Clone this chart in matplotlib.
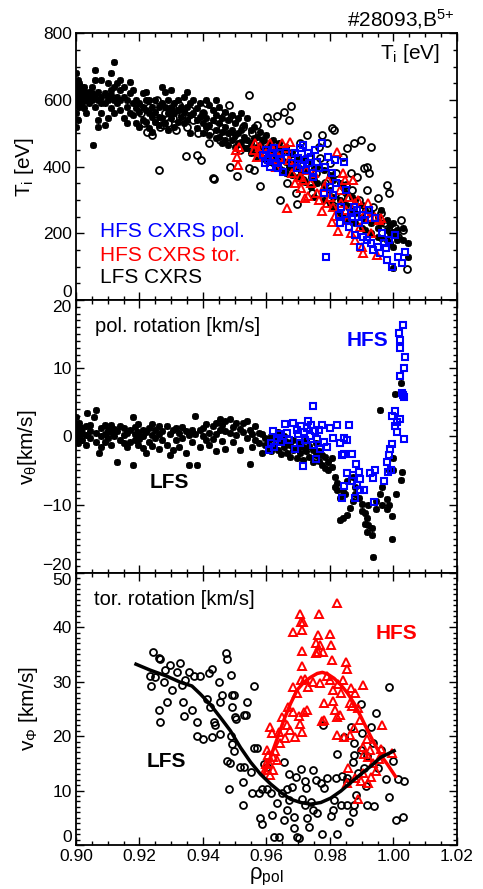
import numpy as np
import matplotlib
matplotlib.use("Agg")
import matplotlib.pyplot as plt
from matplotlib.ticker import MultipleLocator

plt.rcParams['font.family'] = ['Liberation Sans', 'DejaVu Sans']
plt.rcParams['mathtext.default'] = 'regular'

# ---------------- data ----------------
# panel 1: ion temperature, LFS asterisks, rows of (rho, [Ti values])
ti_lfs_star_rows = [
    (0.9000, [520, 560, 600, 630, 650, 680]), (0.9005, [540, 590, 615, 640, 660]),
    (0.9010, [580, 610, 625, 650]), (0.9015, [600, 640, 620]), (0.9020, [590, 610, 630]),
    (0.9025, [575, 615, 640]), (0.9030, [560, 600, 620]), (0.9040, [590, 610, 625]),
    (0.9050, [600, 620, 640]), (0.9055, [465]), (0.9060, [690, 610, 580, 660]),
    (0.9070, [625, 600, 540, 520]), (0.9080, [660, 610, 560, 590]), (0.9090, [525, 620, 590]),
    (0.9100, [610, 600, 650, 545]), (0.9110, [615, 680, 630, 575]), (0.9120, [715, 640, 600, 560]),
    (0.9130, [610, 590, 650]), (0.9140, [660, 630, 600, 570]), (0.9150, [640, 610, 545]),
    (0.9160, [600, 580, 530]), (0.9170, [655, 620, 560]), (0.9180, [630, 590, 555]),
    (0.9190, [600, 575, 530]), (0.9200, [590, 565, 520]), (0.9210, [620, 580, 540]),
    (0.9220, [625, 570, 535, 600]), (0.9230, [600, 560, 515]), (0.9240, [580, 550, 505]),
    (0.9250, [600, 565, 535]), (0.9260, [580, 550, 525]), (0.9270, [640, 590, 545]),
    (0.9280, [625, 580, 530]), (0.9290, [600, 560, 510]), (0.9300, [630, 575, 545]),
    (0.9310, [590, 560, 520]), (0.9320, [600, 570, 535]), (0.9330, [580, 550]),
    (0.9340, [610, 565, 530]), (0.9350, [625, 580, 540]), (0.9360, [590, 555, 500]),
    (0.9370, [600, 560]), (0.9380, [575, 540, 515]), (0.9390, [590, 550]),
    (0.9400, [560, 530, 500]), (0.9410, [600, 545, 520]), (0.9420, [585, 525, 495]),
    (0.9430, [570, 540]), (0.9440, [600, 555, 510, 485]), (0.9450, [580, 530, 490]),
    (0.9460, [545, 505, 470]), (0.9470, [565, 520, 480]), (0.9480, [540, 500, 465]),
    (0.9490, [555, 510, 480]), (0.9500, [530, 495, 460]), (0.9510, [545, 500, 470]),
    (0.9520, [560, 510, 475]), (0.9530, [525, 490, 455]), (0.9540, [545, 480, 455]),
    (0.9550, [510, 470, 440]), (0.9560, [520, 485, 450]), (0.9570, [490, 460, 430]),
    (0.9580, [505, 465, 440]), (0.9590, [480, 450, 425]), (0.9600, [495, 455, 420]),
    (0.9610, [470, 445, 415]), (0.9620, [480, 440, 410]), (0.9630, [460, 430, 400]),
    (0.9640, [470, 435, 395]), (0.9650, [450, 420, 390]), (0.9660, [460, 415, 380]),
    (0.9670, [440, 400]), (0.9680, [445, 410, 375]), (0.9700, [430, 400, 370]),
    (0.9710, [420, 385]), (0.9720, [425, 390, 355]), (0.9740, [410, 370, 340]),
    (0.9750, [395, 360, 310]), (0.9760, [400, 350]), (0.9780, [390, 345, 300]),
    (0.9800, [375, 330, 290]), (0.9810, [360, 310, 280]), (0.9830, [350, 300, 260]),
    (0.9840, [340, 290, 250]), (0.9850, [320, 285, 240]), (0.9870, [310, 270, 235]),
    (0.9880, [300, 260, 230]), (0.9900, [285, 250, 215]), (0.9910, [270, 240, 210]),
    (0.9930, [260, 230, 200]), (0.9950, [250, 215, 190]), (0.9960, [270, 230, 185]),
    (0.9980, [240, 210, 180]), (0.9990, [225, 200, 170]), (1.0000, [230, 205, 160, 95]),
    (1.0010, [210, 190, 180]), (1.0030, [215, 180]), (1.0045, [130, 170]),
]

# panel 1: LFS circles (rho, Ti)
ti_lfs_circ = [
    (0.9205, 560), (0.9215, 530), (0.9225, 505), (0.9230, 580), (0.9240, 495), (0.9250, 545),
    (0.9255, 600), (0.9260, 390), (0.9265, 520), (0.9275, 525), (0.9280, 560), (0.9290, 530),
    (0.9300, 575), (0.9305, 545), (0.9315, 510), (0.9325, 585), (0.9335, 555), (0.9345, 432),
    (0.9350, 520), (0.9360, 570), (0.9370, 540), (0.9380, 435), (0.9385, 500), (0.9395, 420),
    (0.9400, 560), (0.9410, 590), (0.9418, 470), (0.9423, 505), (0.9430, 365), (0.9435, 363),
    (0.9440, 540), (0.9450, 565), (0.9455, 480), (0.9460, 515), (0.9470, 555), (0.9483, 585),
    (0.9486, 400), (0.9495, 490), (0.9500, 540), (0.9507, 372), (0.9515, 450), (0.9525, 520),
    (0.9535, 470), (0.9544, 615), (0.9546, 395), (0.9555, 500), (0.9560, 390), (0.9570, 525),
    (0.9581, 342), (0.9590, 480), (0.9602, 550), (0.9613, 530), (0.9620, 470), (0.9634, 552),
    (0.9644, 300), (0.9650, 450), (0.9655, 565), (0.9665, 350), (0.9670, 540), (0.9676, 582),
    (0.9685, 420), (0.9692, 320), (0.9697, 288), (0.9705, 470), (0.9715, 360), (0.9728, 495),
    (0.9735, 430), (0.9744, 320), (0.9755, 380), (0.9765, 460), (0.9770, 425), (0.9776, 495),
    (0.9785, 350), (0.9790, 470), (0.9800, 410), (0.9807, 515), (0.9813, 510), (0.9820, 380),
    (0.9823, 300), (0.9834, 310), (0.9840, 430), (0.9849, 345), (0.9855, 455), (0.9860, 280),
    (0.9865, 380), (0.9870, 330), (0.9876, 470), (0.9886, 370), (0.9890, 300), (0.9897, 480),
    (0.9907, 395), (0.9915, 330), (0.9918, 400), (0.9923, 380), (0.9928, 460), (0.9935, 280),
    (0.9950, 305), (0.9960, 260), (0.9970, 230), (0.9981, 345), (0.9986, 320), (0.9995, 200),
    (1.0005, 215), (1.0015, 190), (1.0023, 240), (1.0030, 210), (1.0044, 92),
]

# panel 1: HFS toroidal (red triangles)
ti_hfs_tor = [
    (0.9505, 450), (0.9508, 430), (0.9510, 405), (0.9512, 460), (0.9560, 450), (0.9565, 470),
    (0.9570, 430), (0.9575, 445), (0.9580, 460), (0.9600, 440), (0.9610, 470), (0.9615, 420),
    (0.9620, 450), (0.9630, 400), (0.9640, 430), (0.9650, 470), (0.9660, 455), (0.9664, 275),
    (0.9670, 420), (0.9675, 475), (0.9680, 380), (0.9690, 350), (0.9700, 400), (0.9705, 370),
    (0.9710, 335), (0.9715, 360), (0.9720, 305), (0.9725, 390), (0.9732, 313), (0.9740, 350),
    (0.9750, 380), (0.9760, 320), (0.9765, 300), (0.9774, 268), (0.9780, 340), (0.9790, 290),
    (0.9795, 360), (0.9800, 310), (0.9805, 233), (0.9810, 280), (0.9816, 253), (0.9821, 445),
    (0.9826, 208), (0.9830, 330), (0.9835, 290), (0.9840, 380), (0.9847, 360), (0.9850, 270),
    (0.9855, 240), (0.9860, 310), (0.9865, 200), (0.9873, 360), (0.9878, 180), (0.9880, 290),
    (0.9889, 300), (0.9895, 220), (0.9900, 160), (0.9905, 140), (0.9910, 260), (0.9920, 290),
    (0.9925, 250), (0.9930, 200), (0.9941, 250), (0.9947, 135), (0.9955, 240), (0.9962, 245),
]

# panel 1: HFS poloidal (blue squares)
ti_hfs_pol = [
    (0.9590, 435), (0.9595, 410), (0.9600, 450), (0.9605, 420), (0.9610, 400), (0.9615, 440),
    (0.9620, 425), (0.9625, 455), (0.9630, 410), (0.9635, 395), (0.9640, 440), (0.9645, 420),
    (0.9653, 385), (0.9660, 445), (0.9680, 410), (0.9690, 440), (0.9695, 395), (0.9700, 425),
    (0.9705, 455), (0.9710, 405), (0.9716, 465), (0.9720, 420), (0.9725, 390), (0.9730, 440),
    (0.9735, 410), (0.9740, 430), (0.9745, 370), (0.9748, 380), (0.9752, 450), (0.9760, 415),
    (0.9765, 395), (0.9774, 470), (0.9780, 320), (0.9785, 400), (0.9788, 130), (0.9795, 430),
    (0.9800, 340), (0.9805, 380), (0.9811, 315), (0.9815, 420), (0.9820, 350), (0.9827, 255),
    (0.9830, 230), (0.9835, 280), (0.9843, 415), (0.9850, 330), (0.9855, 240), (0.9860, 220),
    (0.9865, 260), (0.9869, 250), (0.9875, 280), (0.9880, 195), (0.9885, 270), (0.9890, 230),
    (0.9895, 160), (0.9901, 255), (0.9905, 190), (0.9910, 240), (0.9915, 180), (0.9922, 270),
    (0.9930, 170), (0.9935, 150), (0.9943, 245), (0.9950, 160), (0.9958, 140), (0.9964, 200),
    (0.9969, 170), (0.9975, 155), (0.9980, 120), (0.9985, 180), (0.9995, 100), (1.0006, 195),
    (1.0015, 130), (1.0027, 110), (1.0037, 145),
]

# panel 2: poloidal rotation, LFS asterisks, rows of (rho, [v values])
vpol_lfs_rows = [
    (0.9000, [2.9, 1.0, -0.5, 0.5, 1.8]), (0.9005, [0.0, 1.5, -1.0]), (0.9010, [2.0, 0.8, 0.3]),
    (0.9020, [1.2, -0.6, 0.5]), (0.9030, [1.5, 0.2, -1.2]), (0.9036, [3.4]),
    (0.9045, [0.8, -0.3, 1.6]), (0.9057, [2.9]), (0.9062, [3.9, 0.5, -0.8]), (0.9073, [-2.5]),
    (0.9080, [1.2, -1.5, 0.0]), (0.9090, [0.4, 1.7, -0.9]), (0.9100, [1.0, -0.2]),
    (0.9110, [0.6, -1.3, 1.6]), (0.9120, [1.1, 0.0]), (0.9130, [-3.7, 0.8]), (0.9140, [1.5, -0.5]),
    (0.9150, [0.2, 1.2, -1.0]), (0.9160, [-1.5, 0.5]), (0.9170, [1.0, -0.8]), (0.9178, [2.8, -4.2]),
    (0.9185, [0.3, 1.4, -0.6]), (0.9195, [1.8, -1.2, 0.6]), (0.9200, [0.0, -0.4]),
    (0.9210, [0.1, 1.0, -1.7]), (0.9222, [-2.5, 0.7]), (0.9230, [1.2, -0.9]),
    (0.9240, [1.8, 0.2, -1.4]), (0.9250, [-0.3, 0.9]), (0.9260, [1.5, -1.9, 0.4]),
    (0.9270, [-0.6, 0.8]), (0.9287, [1.5, -1.2]), (0.9295, [0.3, -2.8]), (0.9306, [-2.0, 0.9]),
    (0.9315, [1.2, -0.5]), (0.9325, [0.5, -1.6]), (0.9335, [1.4, -0.2]), (0.9345, [0.8, -2.5]),
    (0.9355, [-4.2, 0.2]), (0.9365, [1.0, -0.9]), (0.9376, [3.0, 0.4]), (0.9381, [-4.2]),
    (0.9390, [0.9, -1.5]), (0.9400, [1.2, 0.0]), (0.9410, [-0.6, 1.8]), (0.9420, [0.5, -1.3]),
    (0.9430, [1.5, -0.4]), (0.9440, [2.0, 0.3, -2.2]), (0.9453, [2.5, 0.9]), (0.9460, [1.7, -0.7]),
    (0.9470, [0.8, 2.2, -1.9]), (0.9485, [2.5, 0.5]), (0.9495, [1.3, -0.8]), (0.9505, [1.9, 0.2]),
    (0.9517, [-2.0, 1.1]), (0.9525, [0.6, 2.0]), (0.9538, [2.3, -0.3]), (0.9548, [-4.0, 1.0]),
    (0.9555, [0.4, -1.5]), (0.9565, [1.5, -0.6]), (0.9575, [-1.0, 0.5]), (0.9585, [-2.5, 0.3]),
    (0.9595, [-1.2, -0.2]), (0.9605, [-0.8, -1.8]), (0.9615, [0.0, -2.2]), (0.9625, [-1.4, -0.4]),
    (0.9635, [-2.0, 0.6]), (0.9645, [-0.9, -2.6]), (0.9655, [-1.6, 0.1]), (0.9665, [-2.5, -0.8]),
    (0.9675, [-1.2, -3.0]), (0.9685, [-0.5, -2.0]), (0.9695, [-1.8, -3.2]), (0.9705, [-0.9, -2.4]),
    (0.9715, [-1.5, -3.5]), (0.9725, [-2.2, -0.6]), (0.9735, [-3.0, -1.4]), (0.9745, [-2.0, -3.8]),
    (0.9755, [-2.8, -1.0]), (0.9765, [-3.6, -2.2]), (0.9775, [-4.2, -2.8]), (0.9785, [-3.0, -4.6]),
    (0.9795, [-3.8, -5.0]), (0.9805, [-4.5, -3.2]), (0.9815, [-6.0, -7.5]), (0.9821, [-6.9, -7.9]),
    (0.9832, [-12.3, -9.0]), (0.9840, [-12.0, -8.0]), (0.9847, [-8.4]), (0.9855, [-11.5, -6.5]),
    (0.9863, [-10.5]), (0.9874, [-6.0, -9.5]), (0.9880, [-7.5, -8.5]), (0.9890, [-9.0]),
    (0.9900, [-9.9, -11.0]), (0.9910, [-12.8, -11.2]), (0.9915, [-14.0, -12.0]),
    (0.9920, [-13.0, -10.0]), (0.9931, [-14.5, -13.5]), (0.9936, [-17.7]), (0.9946, [-10.7, -9.5]),
    (0.9957, [-8.4, 3.9]), (0.9965, [-10.0, -7.5]), (0.9978, [-10.7, -9.2]), (0.9985, [-5.0, -10.0]),
    (0.9994, [-11.7, -15.0]), (1.0000, [-3.2, -5.0]), (1.0004, [6.2]), (1.0009, [-8.5]),
    (1.0025, [7.8, -6.4]), (1.0028, [-5.2]),
]

# panel 2: HFS poloidal rotation (blue squares)
vpol_hfs = [
    (0.9609, -2.0), (0.9615, -1.0), (0.9620, 0.8), (0.9625, -1.5), (0.9633, -0.3), (0.9638, 0.4),
    (0.9645, -0.8), (0.9659, 1.8), (0.9665, 0.5), (0.9672, -0.6), (0.9683, 2.0), (0.9690, -1.9),
    (0.9695, 1.0), (0.9700, 0.3), (0.9705, -1.0), (0.9710, 1.5), (0.9714, -4.3), (0.9718, 0.6),
    (0.9722, -0.5), (0.9728, 1.2), (0.9732, 2.2), (0.9736, 0.0), (0.9740, 1.6), (0.9745, -1.2),
    (0.9748, 4.4), (0.9752, 0.8), (0.9756, -3.3), (0.9760, -0.4), (0.9765, 1.0), (0.9770, -1.8),
    (0.9774, 1.6), (0.9780, -0.8), (0.9790, -1.5), (0.9800, 1.2), (0.9811, -0.3), (0.9823, 1.7),
    (0.9830, -1.0), (0.9843, -0.3), (0.9838, -2.8), (0.9853, -0.5), (0.9843, -2.6), (0.9861, 1.7),
    (0.9869, -2.6), (0.9843, -7.3), (0.9838, -9.1), (0.9853, -5.4), (0.9874, -5.6), (0.9890, -5.2),
    (0.9885, -7.1), (0.9895, -7.8), (0.9879, -9.0), (0.9906, -7.8), (0.9868, -6.5), (0.9882, -4.0),
    (0.9893, -6.2), (0.9927, -5.4), (0.9943, -5.0), (0.9937, -6.1), (0.9940, -9.6), (0.9970, -6.6),
    (0.9986, -2.7), (0.9996, -1.1), (0.9980, -3.7), (0.9991, -4.9), (0.9983, -5.2), (0.9988, -1.8),
    (0.9996, 3.0), (1.0006, 3.7), (1.0011, 2.1), (1.0022, 2.6), (1.0011, 0.7), (1.0032, -0.4),
    (1.0032, 5.7), (1.0027, 6.4), (1.0030, 6.0), (1.0032, 10.0), (1.0019, 8.9), (1.0037, 11.7),
    (1.0022, 12.9), (1.0019, 14.2), (1.0016, 15.1), (1.0030, 16.3), (1.0005, 1.5),
]

# panel 3: toroidal rotation, LFS circles
vtor_lfs = [
    (0.9244, 35.5), (0.9234, 31.0), (0.9236, 29.2), (0.9250, 30.8), (0.9260, 34.3), (0.9265, 34.1),
    (0.9276, 29.9), (0.9260, 24.8), (0.9263, 22.6), (0.9286, 26.3), (0.9281, 32.1), (0.9297, 33.1),
    (0.9302, 28.5), (0.9318, 31.8), (0.9328, 33.4), (0.9334, 29.4), (0.9344, 30.3), (0.9337, 26.3),
    (0.9340, 23.7), (0.9355, 31.8), (0.9365, 24.8), (0.9371, 31.0), (0.9381, 22.6), (0.9390, 31.0),
    (0.9381, 20.0), (0.9400, 19.4), (0.9413, 26.9), (0.9421, 25.3), (0.9418, 31.5), (0.9429, 32.4),
    (0.9434, 22.6), (0.9429, 19.8), (0.9439, 22.0), (0.9450, 29.9), (0.9455, 26.3), (0.9460, 27.5),
    (0.9455, 20.4), (0.9474, 35.2), (0.9476, 34.1), (0.9487, 31.2), (0.9490, 27.5), (0.9492, 25.3),
    (0.9497, 27.5), (0.9502, 23.5), (0.9489, 20.1), (0.9492, 18.5), (0.9497, 17.3), (0.9505, 23.2),
    (0.9528, 23.8), (0.9537, 23.8), (0.9539, 26.3), (0.9476, 15.5), (0.9486, 15.1), (0.9481, 10.2),
    (0.9518, 14.3), (0.9528, 14.3), (0.9526, 11.6), (0.9526, 7.3), (0.9550, 13.4), (0.9561, 17.9),
    (0.9571, 17.9), (0.9555, 9.5), (0.9561, 29.2), (0.9576, 9.5), (0.9586, 10.2), (0.9581, 4.9),
    (0.9586, 3.9), (0.9592, 14.9), (0.9602, 14.3), (0.9602, 10.3), (0.9613, 9.5), (0.9618, 5.5),
    (0.9623, 1.5), (0.9639, 1.5), (0.9634, 7.7), (0.9650, 9.6), (0.9655, 15.2), (0.9655, 4.5),
    (0.9665, 6.4), (0.9671, 8.3), (0.9671, 13.1), (0.9665, 10.2), (0.9681, 10.7), (0.9687, 5.1),
    (0.9692, 12.5), (0.9687, 3.1), (0.9697, 1.5), (0.9702, 1.2), (0.9710, 14.0), (0.9713, 8.4),
    (0.9720, 7.4), (0.9722, 11.7), (0.9725, 10.4), (0.9729, 4.9), (0.9734, 3.3), (0.9739, 7.9),
    (0.9745, 6.4), (0.9745, 13.8), (0.9755, 12.0), (0.9760, 5.8), (0.9771, 11.4), (0.9779, 22.0),
    (0.9776, 2.0), (0.9781, 10.4), (0.9792, 12.3), (0.9802, 5.3), (0.9808, 6.5), (0.9813, 8.3),
    (0.9818, 12.3), (0.9823, 16.7), (0.9821, 2.1), (0.9834, 7.3), (0.9839, 12.7), (0.9845, 19.8),
    (0.9855, 12.3), (0.9855, 7.3), (0.9860, 4.3), (0.9855, 11.6), (0.9866, 21.7), (0.9871, 6.0),
    (0.9876, 16.5), (0.9871, 15.3), (0.9876, 7.3), (0.9881, 9.1), (0.9889, 13.3), (0.9897, 25.8),
    (0.9897, 17.5), (0.9902, 20.6), (0.9908, 14.1), (0.9913, 10.9), (0.9918, 7.3), (0.9929, 21.7),
    (0.9934, 18.7), (0.9939, 7.2), (0.9944, 24.2), (0.9950, 14.1), (0.9960, 17.5), (0.9976, 12.1),
    (0.9987, 29.1), (0.9987, 8.8), (0.9997, 15.5), (1.0008, 4.5), (1.0013, 12.1), (1.0029, 5.2),
    (1.0034, 11.8), (0.9918, 16.3), (0.9876, 18.7),
]

# panel 3: HFS toroidal rotation (red triangles)
vtor_hfs = [
    (0.9821, 44.4), (0.9706, 42.4), (0.9708, 41.0), (0.9714, 41.0), (0.9713, 39.5), (0.9682, 39.1),
    (0.9764, 42.4), (0.9763, 38.6), (0.9799, 38.7), (0.9711, 35.6), (0.9713, 32.9), (0.9757, 37.0),
    (0.9768, 36.7), (0.9778, 35.5), (0.9803, 36.7), (0.9761, 35.5), (0.9757, 35.3), (0.9806, 33.9),
    (0.9851, 33.6), (0.9852, 32.4), (0.9840, 30.3), (0.9708, 30.3), (0.9682, 29.1), (0.9730, 29.1),
    (0.9767, 29.7), (0.9799, 30.3), (0.9810, 28.5), (0.9867, 28.8), (0.9904, 29.4), (0.9878, 27.9),
    (0.9862, 26.0), (0.9889, 25.1), (0.9669, 25.4), (0.9685, 24.5), (0.9701, 23.6), (0.9717, 24.5),
    (0.9727, 24.8), (0.9780, 26.0), (0.9811, 26.4), (0.9816, 24.8), (0.9780, 23.0), (0.9774, 22.7),
    (0.9821, 23.5), (0.9832, 23.8), (0.9706, 22.3), (0.9674, 21.1), (0.9690, 19.9), (0.9711, 20.8),
    (0.9611, 21.7), (0.9616, 20.5), (0.9963, 22.0), (0.9863, 20.2), (0.9877, 21.4), (0.9903, 18.0),
    (0.9908, 16.8), (0.9919, 16.2), (0.9994, 16.9), (0.9961, 17.7), (0.9601, 17.4), (0.9622, 16.2),
    (0.9607, 15.0), (0.9622, 13.8), (0.9633, 15.6), (0.9596, 13.8), (0.9857, 14.1), (0.9852, 11.4),
    (0.9878, 12.3), (0.9899, 11.7), (0.9920, 11.4), (0.9904, 13.2), (0.9888, 8.5), (0.9843, 19.9),
    (0.9821, 20.2), (0.9643, 18.7), (0.9659, 19.6), (0.9664, 22.0), (0.9605, 16.5), (0.9612, 12.8),
    (0.9628, 17.2), (0.9640, 20.8), (0.9650, 23.5), (0.9695, 28.0), (0.9720, 30.5), (0.9745, 30.0),
    (0.9790, 31.0), (0.9825, 29.5), (0.9835, 28.0), (0.9870, 25.5), (0.9895, 23.0), (0.9915, 19.5),
    (0.9925, 17.5), (0.9935, 15.0), (0.9945, 13.5), (0.9955, 15.8), (0.9930, 12.5), (0.9600, 14.8),
]

# fitted profiles in panel 3
fit_lfs_rho = [0.9189, 0.9234, 0.9286, 0.9328, 0.9365, 0.9392, 0.9423, 0.9455, 0.9486, 0.9518,
               0.9550, 0.9581, 0.9613, 0.9644, 0.9676, 0.9708, 0.9739, 0.9771, 0.9802, 0.9834,
               0.9866, 0.9897, 0.9929, 0.9960, 1.0002]
fit_lfs_v = [33.2, 32.1, 31.0, 29.9, 29.2, 27.7, 25.8, 23.4, 21.0, 17.9,
             15.2, 13.0, 11.2, 9.7, 8.4, 7.8, 7.5, 7.8, 8.6, 9.9,
             11.5, 13.0, 14.5, 16.1, 17.3]
fit_hfs_rho = [0.9592, 0.9613, 0.9634, 0.9655, 0.9676, 0.9697, 0.9718, 0.9739, 0.9760, 0.9776,
               0.9792, 0.9813, 0.9834, 0.9855, 0.9876, 0.9897, 0.9918, 0.9939, 0.9960, 0.9981,
               1.0006]
fit_hfs_v = [13.0, 16.2, 19.6, 23.0, 26.0, 28.5, 29.9, 30.8, 31.5, 31.7,
             31.4, 30.6, 29.4, 27.9, 26.0, 23.6, 21.1, 18.7, 16.5, 14.8,
             12.6]


def expand(rows):
    xs, ys = [], []
    for r, vals in rows:
        for v in vals:
            xs.append(r)
            ys.append(v)
    return np.array(xs), np.array(ys)


def split(pairs):
    a = np.array(pairs)
    return a[:, 0], a[:, 1]


BLUE = '#0000ff'
RED = '#ff0000'
star = dict(marker=(8, 2, 0), ms=5, mew=1.3, color='black', ls='none')
circ = dict(marker='o', ms=5, mew=1.3, mfc='none', mec='black', ls='none')
tri = dict(marker='^', ms=5.5, mew=1.4, mfc='none', mec=RED, ls='none')
sq = dict(marker='s', ms=5, mew=1.5, mfc='none', mec=BLUE, ls='none')

fig = plt.figure(figsize=(4.83, 8.89), dpi=100)
left, width = 76 / 483, 381 / 483
ax1 = fig.add_axes([left, 1 - 300 / 889, width, 266.7 / 889])
ax2 = fig.add_axes([left, 1 - 572.7 / 889, width, 272.7 / 889])
ax3 = fig.add_axes([left, 1 - 845 / 889, width, 272.3 / 889])


def style(ax, ymaj, ymin):
    ax.set_xlim(0.90, 1.02)
    ax.xaxis.set_major_locator(MultipleLocator(0.02))
    ax.xaxis.set_minor_locator(MultipleLocator(0.005))
    ax.yaxis.set_major_locator(MultipleLocator(ymaj))
    ax.yaxis.set_minor_locator(MultipleLocator(ymin))
    ax.tick_params(which='both', direction='in', top=True, right=True, width=1.0,
                   labelsize=12.5, pad=3)
    ax.tick_params(which='major', length=5.5)
    ax.tick_params(which='minor', length=3)
    for s in ax.spines.values():
        s.set_linewidth(1.3)


# --- panel 1 ---
x, y = expand(ti_lfs_star_rows)
ax1.plot(x, y, **star)
x, y = split(ti_lfs_circ)
ax1.plot(x, y, **circ)
x, y = split(ti_hfs_tor)
ax1.plot(x, y, **tri)
x, y = split(ti_hfs_pol)
ax1.plot(x, y, **sq)
style(ax1, 200, 50)
ax1.set_ylim(0, 800)
ax1.tick_params(labelbottom=False)
ax1.set_ylabel('T$_\\mathregular{i}$ [eV]', fontsize=15)
ax1.yaxis.set_label_coords(-0.105, 0.5)
ax1.text(0.955, 0.925, 'T$_\\mathregular{i}$ [eV]', transform=ax1.transAxes,
         ha='right', va='center', fontsize=15)
ax1.text(0.063, 0.255, 'HFS CXRS pol.', color=BLUE, transform=ax1.transAxes,
         va='center', fontsize=15)
ax1.text(0.063, 0.168, 'HFS CXRS tor.', color=RED, transform=ax1.transAxes,
         va='center', fontsize=15)
ax1.text(0.063, 0.085, 'LFS CXRS', color='black', transform=ax1.transAxes,
         va='center', fontsize=15)

# --- panel 2 ---
x, y = expand(vpol_lfs_rows)
ax2.plot(x, y, **star)
x, y = split(vpol_hfs)
ax2.plot(x, y, **sq)
style(ax2, 10, 1)
ax2.set_ylim(-20, 20)
ax2.tick_params(labelbottom=False)
ax2.set_ylabel('v$_\\mathregular{\u03b8}$[km/s]', fontsize=15)
ax2.yaxis.set_label_coords(-0.098, 0.46)
ax2.text(0.05, 0.902, 'pol. rotation [km/s]', transform=ax2.transAxes,
         va='center', fontsize=14.5)
ax2.text(0.709, 0.853, 'HFS', color=BLUE, fontweight='bold', transform=ax2.transAxes,
         va='center', fontsize=15)
ax2.text(0.192, 0.329, 'LFS', color='black', fontweight='bold', transform=ax2.transAxes,
         va='center', fontsize=15)

# --- panel 3 ---
x, y = split(vtor_lfs)
ax3.plot(x, y, **circ)
x, y = split(vtor_hfs)
ax3.plot(x, y, **tri)
ax3.plot(fit_hfs_rho, fit_hfs_v, color=RED, lw=2.5)
ax3.plot(fit_lfs_rho, fit_lfs_v, color='black', lw=2.5)
style(ax3, 10, 1)
ax3.set_ylim(0, 50)
ax3.xaxis.set_major_formatter(plt.FormatStrFormatter('%.2f'))
ax3.set_ylabel('v$_\\mathregular{\u03a6}$ [km/s]', fontsize=15)
ax3.yaxis.set_label_coords(-0.094, 0.5)
ax3.set_xlabel('\u03c1$_\\mathregular{pol}$', fontsize=16, labelpad=1)
ax3.text(0.048, 0.903, 'tor. rotation [km/s]', transform=ax3.transAxes,
         va='center', fontsize=14.5)
ax3.text(0.787, 0.778, 'HFS', color=RED, fontweight='bold', transform=ax3.transAxes,
         va='center', fontsize=15)
ax3.text(0.186, 0.305, 'LFS', color='black', fontweight='bold', transform=ax3.transAxes,
         va='center', fontsize=15)

fig.text(455 / 483, 1 - 26 / 889, '#28093,B$^{5{+}}$', ha='right', va='baseline',
         fontsize=15)

# shift the y tick labels that sit on shared panel borders, as in the original
fig.canvas.draw()
for ax, shift_top in ((ax1, False), (ax2, True), (ax3, True)):
    lo, hi = ax.get_ylim()
    for t in ax.yaxis.get_major_ticks():
        loc = t.get_loc()
        if abs(loc - lo) < 1e-9:
            t.label1.set_verticalalignment('bottom')
        elif shift_top and abs(loc - hi) < 1e-9:
            t.label1.set_verticalalignment('top')

fig.savefig('out.png', dpi=100)
